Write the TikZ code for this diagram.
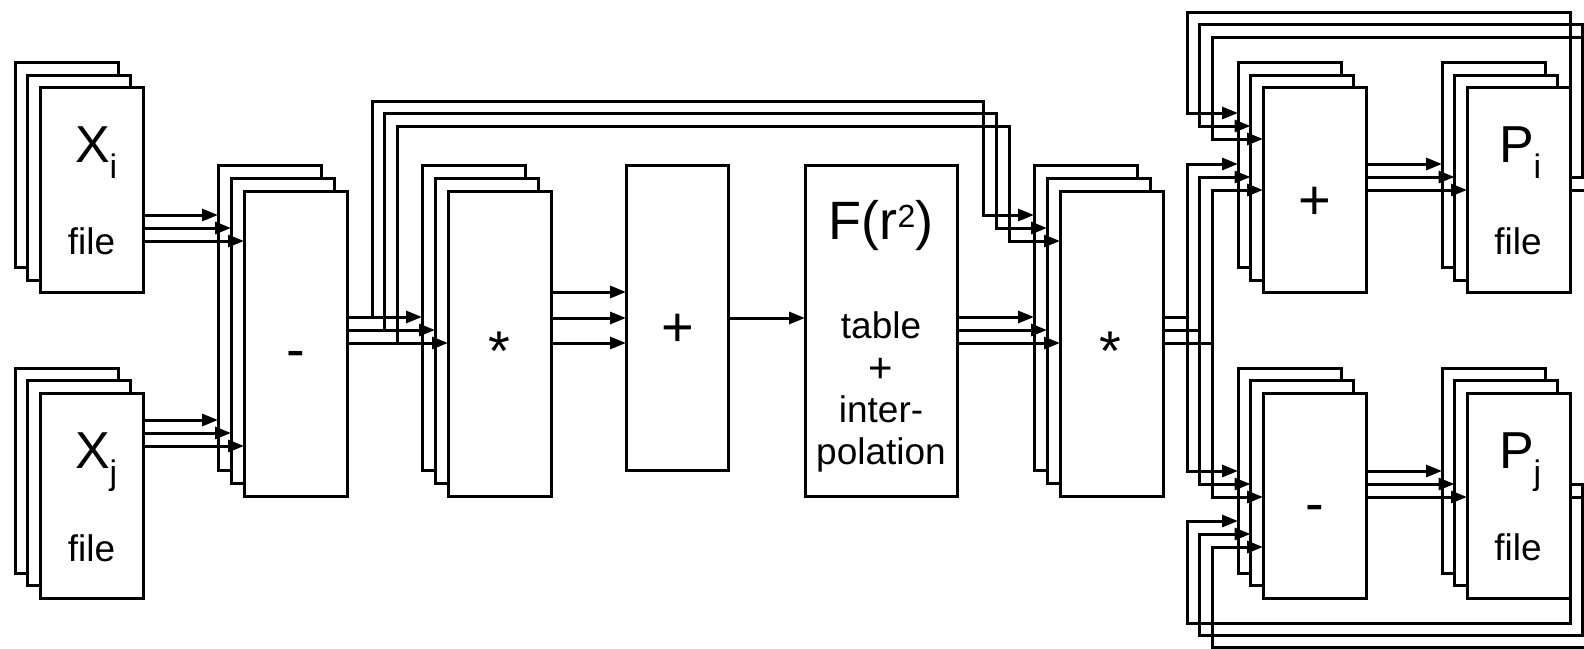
\documentclass[tikz,border=0pt]{standalone}
\usepackage{fontspec}
\setmainfont{Liberation Sans}
\usetikzlibrary{arrows.meta}
\newcommand\bigf{\fontsize{26}{28}\selectfont}
\newcommand\opf{\fontsize{28}{30}\selectfont}
\newcommand\midf{\fontsize{18.5}{21}\selectfont}
\newcommand\subf{\fontsize{17}{18}\selectfont}
\newcommand\lowr[1]{\raisebox{-8pt}{\subf #1}}
\begin{document}
\begin{tikzpicture}[x=0.5pt,y=-0.5pt,
  lay/.style={draw, fill=white, line width=1.5pt, minimum width=51.5pt, outer sep=0pt, inner sep=0pt, anchor=north west},
  fbox/.style={lay, minimum height=102.5pt},
  tbox/.style={lay, minimum height=152.5pt},
  con/.style={line width=1.5pt},
  arr/.style={con, -{Triangle[length=8pt,width=6pt]}},
  lbl/.style={inner sep=0pt, outer sep=0pt},
]
\useasboundingbox[fill=white] (0,0) rectangle (1584,648);
\clip (0,0) rectangle (1584,648);
% level coordinates
\coordinate (ya1) at (0,215); \coordinate (ya2) at (0,228); \coordinate (ya3) at (0,241);
\coordinate (yb1) at (0,420); \coordinate (yb2) at (0,433); \coordinate (yb3) at (0,446);
\coordinate (yc1) at (0,317); \coordinate (yc2) at (0,330); \coordinate (yc3) at (0,343);
\coordinate (yd1) at (0,292); \coordinate (yd2) at (0,318); \coordinate (yd3) at (0,343);
\coordinate (ye1) at (0,101); \coordinate (ye2) at (0,113); \coordinate (ye3) at (0,126);
\coordinate (yf1) at (0,164); \coordinate (yf2) at (0,177); \coordinate (yf3) at (0,190);
\coordinate (yg1) at (0,113); \coordinate (yg2) at (0,126); \coordinate (yg3) at (0,139);
\coordinate (yh1) at (0,12);  \coordinate (yh2) at (0,24);  \coordinate (yh3) at (0,37);
\coordinate (yi1) at (0,471); \coordinate (yi2) at (0,484); \coordinate (yi3) at (0,497);
\coordinate (yj1) at (0,521); \coordinate (yj2) at (0,534); \coordinate (yj3) at (0,547);
\coordinate (yk1) at (0,623); \coordinate (yk2) at (0,635); \coordinate (yk3) at (0,647);
% column coordinates
\coordinate (xa1) at (372,0); \coordinate (xa2) at (384.5,0); \coordinate (xa3) at (397,0);
\coordinate (xb1) at (983,0); \coordinate (xb2) at (996,0); \coordinate (xb3) at (1009,0);
\coordinate (xc1) at (1187,0); \coordinate (xc2) at (1199.5,0); \coordinate (xc3) at (1212,0);
\coordinate (xd2) at (1582,0); \coordinate (xd3) at (1596,0);
% boxes
\node[fbox] (xi1) at (15,62.5) {}; \node[fbox] (xi2) at (27.5,75) {}; \node[fbox] (xi3) at (40,87.5) {};
\node[fbox] (xj1) at (15,368) {}; \node[fbox] (xj2) at (27.5,380.5) {}; \node[fbox] (xj3) at (40,393) {};
\node[tbox] (m1) at (218,165) {}; \node[tbox] (m2) at (231,178) {}; \node[tbox] (m3) at (244,191) {};
\node[tbox] (s1) at (422,165) {}; \node[tbox] (s2) at (435,178) {}; \node[tbox] (s3) at (448,191) {};
\node[tbox, minimum width=51pt] (pl) at (626,165) {};
\node[lay, minimum width=76pt, minimum height=165.5pt] (F) at (805,165) {};
\node[tbox] (t1) at (1034,165) {}; \node[tbox] (t2) at (1047,178) {}; \node[tbox] (t3) at (1060,191) {};
\node[fbox] (pr1) at (1238,62.5) {}; \node[fbox] (pr2) at (1250.5,75) {}; \node[fbox] (pr3) at (1263,87.5) {};
\node[fbox] (pi1) at (1442,62.5) {}; \node[fbox] (pi2) at (1454.5,75) {}; \node[fbox] (pi3) at (1467,87.5) {};
\node[fbox] (mr1) at (1238,368) {}; \node[fbox] (mr2) at (1250.5,380.5) {}; \node[fbox] (mr3) at (1263,393) {};
\node[fbox] (pj1) at (1442,368) {}; \node[fbox] (pj2) at (1454.5,380.5) {}; \node[fbox] (pj3) at (1467,393) {};
% labels
\node[lbl, anchor=base west] (txi) at (75,162) {\bigf X\lowr{i}};
\node[lbl, anchor=base] (fxi) at (91.5,254) {\midf file};
\node[lbl, anchor=base west] (txj) at (75,468) {\bigf X\lowr{j}};
\node[lbl, anchor=base] (fxj) at (91.5,561) {\midf file};
\node[lbl, anchor=base] (tm1) at (296,368) {\opf -};
\node[lbl, anchor=base] (ts1) at (499,370) {\fontsize{28}{30}\selectfont *};
\node[lbl, anchor=base] (tpl) at (678,346) {\opf +};
\node[lbl, anchor=base] (tf1) at (881,239) {\fontsize{27}{29}\selectfont F(r\raisebox{6pt}{\fontsize{16}{17}\selectfont 2})};
\node[lbl, anchor=base] (tf2) at (881,338) {\midf table};
\node[lbl, anchor=base] (tf3) at (881,382) {\fontsize{21}{23}\selectfont +};
\node[lbl, anchor=base] (tf4) at (881,422) {\midf inter-};
\node[lbl, anchor=base] (tf5) at (881,464) {\midf polation};
\node[lbl, anchor=base] (ts2) at (1110,370) {\fontsize{28}{30}\selectfont *};
\node[lbl, anchor=base] (tpr) at (1315,219) {\opf +};
\node[lbl, anchor=base] (tmr) at (1315,522) {\opf -};
\node[lbl, anchor=base west] (tpi) at (1499,162) {\bigf P\lowr{i}};
\node[lbl, anchor=base] (fpi) at (1518,254) {\midf file};
\node[lbl, anchor=base west] (tpj) at (1499,468) {\bigf P\lowr{j}};
\node[lbl, anchor=base] (fpj) at (1518,560) {\midf file};
% Xi, Xj -> minus
\draw[arr] (xi3.east |- ya1) -- (m1.west |- ya1);
\draw[arr] (xi3.east |- ya2) -- (m2.west |- ya2);
\draw[arr] (xi3.east |- ya3) -- (m3.west |- ya3);
\draw[arr] (xj3.east |- yb1) -- (m1.west |- yb1);
\draw[arr] (xj3.east |- yb2) -- (m2.west |- yb2);
\draw[arr] (xj3.east |- yb3) -- (m3.west |- yb3);
% minus -> star1
\draw[arr] (m3.east |- yc1) -- (s1.west |- yc1);
\draw[arr] (m3.east |- yc2) -- (s2.west |- yc2);
\draw[arr] (m3.east |- yc3) -- (s3.west |- yc3);
% minus -> star2 over the top
\draw[arr] (m3.east |- yc1) -| (xa1 |- ye1) -| (xb1 |- ya1) -- (t1.west |- ya1);
\draw[arr] (m3.east |- yc2) -| (xa2 |- ye2) -| (xb2 |- ya2) -- (t2.west |- ya2);
\draw[arr] (m3.east |- yc3) -| (xa3 |- ye3) -| (xb3 |- ya3) -- (t3.west |- ya3);
% star1 -> plus -> F
\draw[arr] (s3.east |- yd1) -- (pl.west |- yd1);
\draw[arr] (s3.east |- yd2) -- (pl.west |- yd2);
\draw[arr] (s3.east |- yd3) -- (pl.west |- yd3);
\draw[arr] (pl.east |- yd2) -- (F.west |- yd2);
% F -> star2
\draw[arr] (F.east |- yc1) -- (t1.west |- yc1);
\draw[arr] (F.east |- yc2) -- (t2.west |- yc2);
\draw[arr] (F.east |- yc3) -- (t3.west |- yc3);
% star2 -> plusR and minusR
\draw[arr] (t3.east |- yc1) -| (xc1 |- yf1) -- (pr1.west |- yf1);
\draw[arr] (t3.east |- yc2) -| (xc2 |- yf2) -- (pr2.west |- yf2);
\draw[arr] (t3.east |- yc3) -| (xc3 |- yf3) -- (pr3.west |- yf3);
\draw[arr] (xc1 |- yc1) |- (mr1.west |- yi1);
\draw[arr] (xc2 |- yc2) |- (mr2.west |- yi2);
\draw[arr] (xc3 |- yc3) |- (mr3.west |- yi3);
% plusR -> Pi, minusR -> Pj
\draw[arr] (pr3.east |- yf1) -- (pi1.west |- yf1);
\draw[arr] (pr3.east |- yf2) -- (pi2.west |- yf2);
\draw[arr] (pr3.east |- yf3) -- (pi3.west |- yf3);
\draw[arr] (mr3.east |- yi1) -- (pj1.west |- yi1);
\draw[arr] (mr3.east |- yi2) -- (pj2.west |- yi2);
\draw[arr] (mr3.east |- yi3) -- (pj3.west |- yi3);
% Pi feedback
\draw[arr] (pi3.east |- yf1) |- (xc1 |- yh1) |- (pr1.west |- yg1);
\draw[arr] (pi3.east |- yf2) -| (xd2 |- yh2) -| (xc2 |- yg2) -- (pr2.west |- yg2);
\draw[arr] (pi3.east |- yf3) -| (xd3 |- yh3) -| (xc3 |- yg3) -- (pr3.west |- yg3);
% Pj feedback
\draw[arr] (pj3.east |- yi1) |- (xc1 |- yk1) |- (mr1.west |- yj1);
\draw[arr] (pj3.east |- yi2) -| (xd2 |- yk2) -| (xc2 |- yj2) -- (mr2.west |- yj2);
\draw[arr] (pj3.east |- yi3) -| (xd3 |- yk3) -| (xc3 |- yj3) -- (mr3.west |- yj3);
\end{tikzpicture}
\end{document}
